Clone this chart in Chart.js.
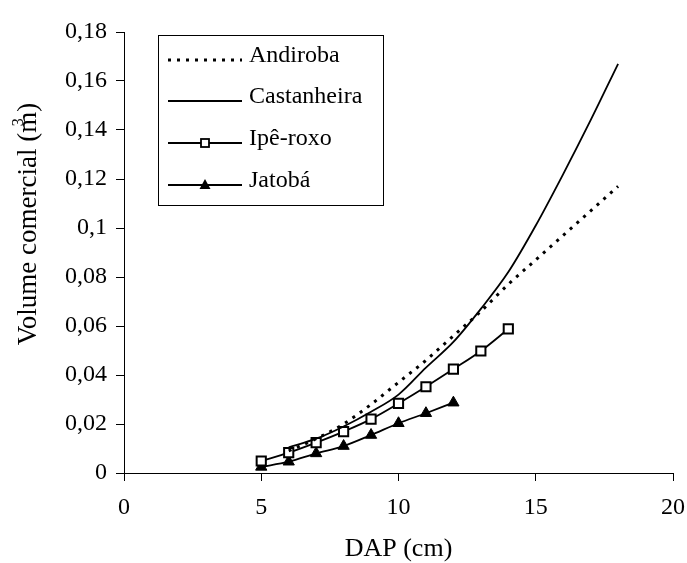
<!DOCTYPE html>
<html><head><meta charset="utf-8">
<script src="https://cdn.jsdelivr.net/npm/chart.js@4"></script>
<style>html,body{margin:0;padding:0;background:#fff}</style>
</head><body>
<canvas id="c" width="687" height="563"></canvas>
<script>
const seriesNames = ['Andiroba', 'Castanheira', 'Ipê-roxo', 'Jatobá'];
const andirobaDAP = [6, 7, 8, 9, 10, 11, 12, 13, 14, 15, 16, 17, 18];
const andirobaVol = [0.009, 0.014, 0.020, 0.028, 0.037, 0.046, 0.056, 0.066, 0.077, 0.087, 0.097, 0.107, 0.117];
const castanheiraDAP = [6, 7, 8, 9, 10, 11, 12, 13, 14, 15, 16, 17, 18];
const castanheiraVol = [0.0105, 0.014, 0.019, 0.025, 0.032, 0.043, 0.0535, 0.067, 0.082, 0.101, 0.122, 0.144, 0.167];
const ipeDAP = [5, 6, 7, 8, 9, 10, 11, 12, 13, 14];
const ipeVol = [0.0049, 0.0083, 0.0124, 0.0169, 0.022, 0.0284, 0.0352, 0.0424, 0.0498, 0.0588];
const jatobaDAP = [5, 6, 7, 8, 9, 10, 11, 12];
const jatobaVol = [0.0025, 0.0046, 0.008, 0.011, 0.0155, 0.0203, 0.0244, 0.0287];
const xTicks = [0, 5, 10, 15, 20];
const yTicks = [0, 0.02, 0.04, 0.06, 0.08, 0.1, 0.12, 0.14, 0.16, 0.18];
const xTitle = 'DAP (cm)';
const yTitleMain = 'Volume comercial (m';
const yTitleSup = '3';
const yTitleEnd = ')';

const FONT = '"Liberation Serif", "Times New Roman", serif';
const pts = (xs, ys) => xs.map((x, i) => ({x: x, y: ys[i]}));
const fmt = v => String(Math.round(v * 100) / 100).replace('.', ',');

const datasets = [
  {label: seriesNames[0], data: pts(andirobaDAP, andirobaVol), borderColor: '#000', borderWidth: 3,
   borderDash: [3, 6], pointRadius: 0, cubicInterpolationMode: 'monotone', borderCapStyle: 'butt'},
  {label: seriesNames[1], data: pts(castanheiraDAP, castanheiraVol), borderColor: '#000', borderWidth: 1.8,
   pointRadius: 0, cubicInterpolationMode: 'monotone'},
  {label: seriesNames[2], data: pts(ipeDAP, ipeVol), borderColor: '#000', borderWidth: 1.8,
   pointStyle: 'rect', pointRadius: 6.5, pointBorderWidth: 2, pointBackgroundColor: '#fff', pointBorderColor: '#000',
   cubicInterpolationMode: 'monotone'},
  {label: seriesNames[3], data: pts(jatobaDAP, jatobaVol), borderColor: '#000', borderWidth: 1.8,
   pointStyle: 'triangle', pointRadius: 6.5, pointBorderWidth: 1, pointBackgroundColor: '#000', pointBorderColor: '#000',
   cubicInterpolationMode: 'monotone'}
];

const boxLegend = {
  id: 'boxLegend',
  afterDraw(chart) {
    const ctx = chart.ctx;
    ctx.save();
    ctx.strokeStyle = '#000';
    ctx.lineWidth = 1;
    ctx.setLineDash([]);
    ctx.strokeRect(158.5, 35.5, 225, 170);
    const rowY = [60, 101, 143, 185];
    chart.data.datasets.forEach((ds, i) => {
      const y = rowY[i];
      ctx.save();
      ctx.strokeStyle = '#000';
      ctx.lineWidth = ds.borderWidth;
      ctx.setLineDash(ds.borderDash || []);
      ctx.lineCap = 'butt';
      ctx.beginPath();
      ctx.moveTo(168, y);
      ctx.lineTo(242, y);
      ctx.stroke();
      ctx.restore();
      if (ds.pointStyle === 'rect') {
        ctx.fillStyle = '#fff';
        ctx.lineWidth = 1.8;
        ctx.fillRect(201, y - 4, 8, 8);
        ctx.strokeRect(201, y - 4, 8, 8);
      } else if (ds.pointStyle === 'triangle') {
        ctx.fillStyle = '#000';
        ctx.beginPath();
        ctx.moveTo(205, y - 6);
        ctx.lineTo(210.5, y + 4);
        ctx.lineTo(199.5, y + 4);
        ctx.closePath();
        ctx.fill();
      }
      ctx.fillStyle = '#000';
      ctx.font = '24px ' + FONT;
      ctx.textAlign = 'left';
      ctx.textBaseline = 'alphabetic';
      ctx.fillText(ds.label, 249, y + 2);
    });
    // x axis title
    ctx.fillStyle = '#000';
    ctx.font = '26px ' + FONT;
    ctx.textAlign = 'center';
    ctx.textBaseline = 'middle';
    const xs = chart.scales.x;
    ctx.fillText(xTitle, (xs.left + xs.right) / 2, 549);
    // y axis title, with the exponent set above the "m"
    ctx.save();
    ctx.translate(36, 224);
    ctx.rotate(-Math.PI / 2);
    ctx.font = '27px ' + FONT;
    ctx.textBaseline = 'alphabetic';
    ctx.textAlign = 'left';
    const wMain = ctx.measureText(yTitleMain).width;
    const wEnd = ctx.measureText(yTitleEnd).width;
    const wM = ctx.measureText('m').width;
    const start = -(wMain + wEnd) / 2;
    ctx.fillText(yTitleMain, start, 0);
    ctx.fillText(yTitleEnd, start + wMain, 0);
    ctx.font = '16px ' + FONT;
    ctx.textAlign = 'center';
    ctx.fillText(yTitleSup, start + wMain - wM / 2, -13);
    ctx.restore();
    ctx.restore();
  }
};

new Chart(document.getElementById('c'), {
  type: 'line',
  data: {datasets: datasets},
  plugins: [boxLegend],
  options: {
    responsive: false,
    animation: false,
    devicePixelRatio: 1,
    layout: {padding: {top: 32, right: 14, left: 0, bottom: 0}},
    plugins: {legend: {display: false}, tooltip: {enabled: false}},
    scales: {
      x: {
        type: 'linear', min: 0, max: 20,
        afterBuildTicks: s => { s.ticks = xTicks.map(v => ({value: v})); },
        afterFit: s => { s.height = 90; s.paddingRight = 0; s.paddingLeft = 0; },
        ticks: {color: '#000', font: {family: FONT, size: 24}, padding: 12, maxRotation: 0},
        grid: {drawOnChartArea: false, drawTicks: true, tickLength: 8, color: '#000', lineWidth: 1},
        border: {color: '#000', width: 1},
        title: {display: false}
      },
      y: {
        type: 'linear', min: 0, max: 0.18,
        afterBuildTicks: s => { s.ticks = yTicks.map(v => ({value: v})); },
        afterFit: s => { s.width = 124; },
        ticks: {color: '#000', font: {family: FONT, size: 24}, padding: 9, callback: v => fmt(v)},
        grid: {drawOnChartArea: false, drawTicks: true, tickLength: 8, color: '#000', lineWidth: 1},
        border: {color: '#000', width: 1},
        title: {display: false}
      }
    }
  }
});
</script>
</body></html>
